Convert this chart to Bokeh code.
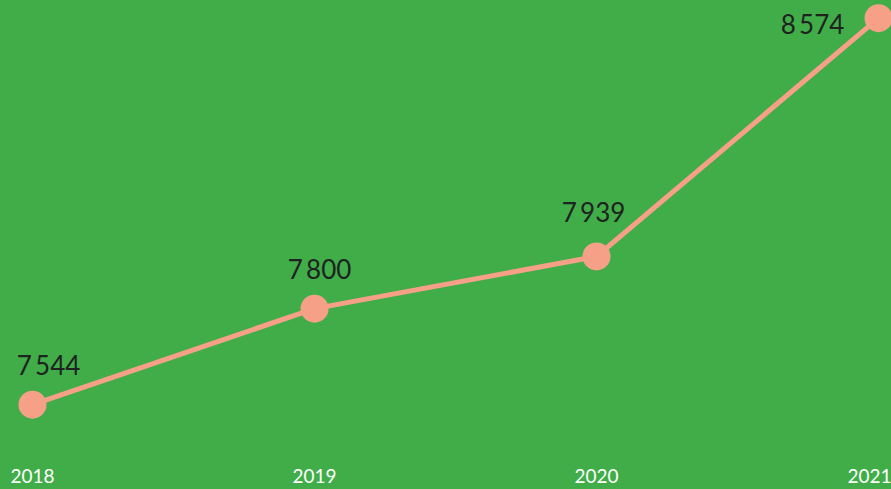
from bokeh.plotting import figure
from bokeh.models import Range1d, ColumnDataSource, LabelSet, FixedTicker
from bokeh.core.properties import value
from bokeh.embed import file_html
from bokeh.resources import INLINE

# ---- data ----
years = [2018, 2019, 2020, 2021]
values = [7544, 7800, 7939, 8574]
year_labels = ["2018", "2019", "2020", "2021"]

# ---- style ----
GREEN = "#41AD49"
SALMON = "#F7A088"
TEXT_DARK = "#1F2320"
FONT = "Lato"
label_dx = [16, 5, -3, -66]
label_dy = [30, 30, 34, -16]

labels = [f"{v:,}".replace(",", "\u2009") for v in values]

src = ColumnDataSource(dict(x=years, y=values, label=labels, dx=label_dx, dy=label_dy))

p = figure(width=891, height=489,
           x_range=Range1d(2017.8865, 2021.046),
           y_range=Range1d(7390, 8621),
           min_border=0, min_border_bottom=27,
           toolbar_location=None, output_backend="svg",
           background_fill_color=GREEN, border_fill_color=GREEN,
           outline_line_color=None)

p.line("x", "y", source=src, line_color=SALMON, line_width=5)
p.scatter("x", "y", source=src, size=28, fill_color=SALMON, line_color=None)

p.add_layout(LabelSet(x="x", y="y", text="label", source=src,
                      x_offset="dx", y_offset="dy",
                      text_align="center", text_baseline="alphabetic",
                      text_font=value(FONT), text_font_size="26px",
                      text_color=TEXT_DARK))

p.yaxis.visible = False
p.grid.visible = False
ax = p.xaxis[0]
ax.ticker = FixedTicker(ticks=years)
ax.major_label_overrides = {y: l for y, l in zip(years, year_labels)}
ax.axis_line_color = None
ax.major_tick_line_color = None
ax.minor_tick_line_color = None
ax.major_label_text_color = "white"
ax.major_label_text_font = FONT
ax.major_label_text_font_size = "19px"
ax.major_label_standoff = 0

tmpl = """{% block preamble %}<style>html,body{margin:0;padding:0;background:#41AD49;}</style>{% endblock %}"""
open("out.html", "w").write(file_html(p, INLINE, template=tmpl))
